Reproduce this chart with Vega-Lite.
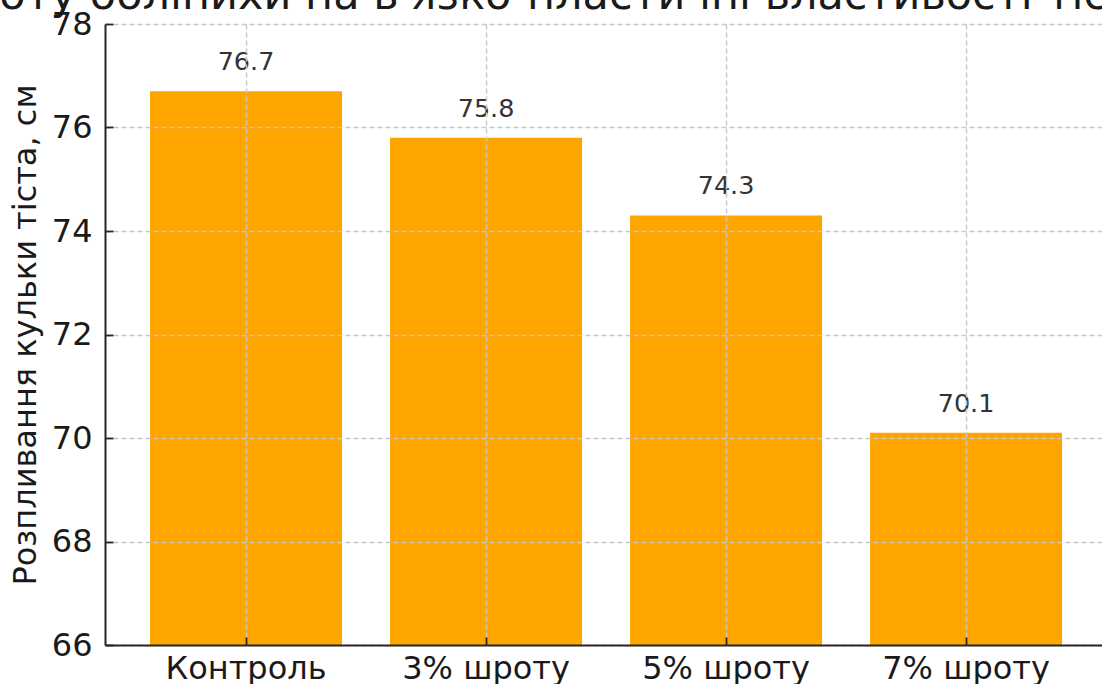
{
  "$schema": "https://vega.github.io/schema/vega-lite/v6.json",
  "width": 997,
  "height": 621,
  "autosize": {"type": "none"},
  "padding": {"left": 105, "top": 24, "right": 0, "bottom": 39},
  "background": "white",
  "config": {
    "view": {"stroke": null},
    "font": "DejaVu Sans"
  },
  "title": {
    "text": "Вплив шроту обліпихи на в'язко-пластичні властивості тіста",
    "font": "DejaVu Sans",
    "fontSize": 43,
    "fontWeight": "normal",
    "color": "#1a1a1a",
    "anchor": "middle",
    "frame": "group",
    "baseline": "alphabetic",
    "offset": 0,
    "dy": 44,
    "dx": -134
  },
  "data": {
    "values": [
      {"variant": "Контроль", "value": 76.7},
      {"variant": "3% шроту", "value": 75.8},
      {"variant": "5% шроту", "value": 74.3},
      {"variant": "7% шроту", "value": 70.1}
    ]
  },
  "encoding": {
    "x": {
      "field": "variant",
      "type": "nominal",
      "sort": null,
      "scale": {"paddingInner": 0.2, "paddingOuter": 0.177, "align": 0.53},
      "axis": {
        "title": null,
        "labelAngle": 0,
        "labelFont": "DejaVu Sans",
        "labelFontSize": 32,
        "labelColor": "#1a1a1a",
        "labelPadding": 16,
        "tickSize": -8,
        "tickWidth": 1.8,
        "tickColor": "#262626",
        "domainColor": "#262626",
        "domainWidth": 2,
        "grid": true,
        "gridColor": "#c8c8c8",
        "gridDash": [5, 3],
        "gridWidth": 1.5,
        "zindex": 1
      }
    }
  },
  "layer": [
    {
      "mark": {"type": "bar", "color": "#FFA500"},
      "encoding": {
        "y": {
          "field": "value",
          "type": "quantitative",
          "scale": {"domain": [66, 78], "nice": false, "zero": false},
          "axis": {
            "title": "Розпливання кульки тіста, см",
            "titleFont": "DejaVu Sans",
            "titleFontSize": 32,
            "titleFontWeight": "normal",
            "titleColor": "#1a1a1a",
            "titlePadding": 9,
            "values": [66, 68, 70, 72, 74, 76, 78],
            "labelFont": "DejaVu Sans",
            "labelFontSize": 32,
            "labelColor": "#1a1a1a",
            "labelPadding": 21,
            "tickSize": -8,
            "tickWidth": 1.8,
            "tickColor": "#262626",
            "domainColor": "#262626",
            "domainWidth": 2,
            "grid": true,
            "gridColor": "#c8c8c8",
            "gridDash": [5, 3],
            "gridWidth": 1.5,
            "zindex": 1
          }
        },
        "y2": {"datum": 66}
      }
    },
    {
      "mark": {
        "type": "text",
        "font": "DejaVu Sans",
        "fontSize": 25.5,
        "color": "#333333",
        "baseline": "alphabetic",
        "align": "center",
        "dy": -21
      },
      "encoding": {
        "y": {"field": "value", "type": "quantitative"},
        "text": {"field": "value", "type": "quantitative", "format": ".1f"}
      }
    }
  ]
}
